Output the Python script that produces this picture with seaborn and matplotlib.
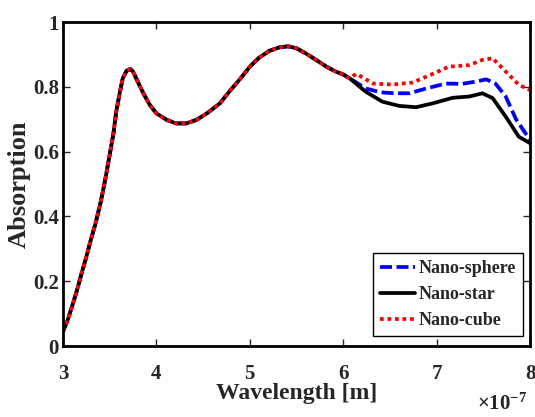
import numpy as np
import pandas as pd
import matplotlib
matplotlib.use("Agg")
import matplotlib.pyplot as plt
import seaborn as sns

# ---- data (wavelength in units of 1e-7 m) ----
wl_common = [3.00, 3.05, 3.10, 3.15, 3.20, 3.25, 3.30, 3.35, 3.40, 3.45, 3.50, 3.54,
             3.57, 3.61, 3.64, 3.68, 3.72, 3.75, 3.80, 3.86, 3.93, 4.00, 4.11, 4.21,
             4.32, 4.43, 4.55, 4.68, 4.78, 4.89, 5.00, 5.10, 5.21, 5.32, 5.41, 5.50,
             5.60, 5.71, 5.82, 5.92, 6.00, 6.07]
abs_common = [0.045, 0.08, 0.125, 0.172, 0.225, 0.275, 0.33, 0.38, 0.44, 0.51, 0.59, 0.656,
              0.723, 0.785, 0.826, 0.849, 0.855, 0.847, 0.816, 0.78, 0.744, 0.718, 0.698, 0.687,
              0.687, 0.698, 0.72, 0.749, 0.785, 0.822, 0.862, 0.89, 0.911, 0.922, 0.925, 0.919,
              0.903, 0.883, 0.862, 0.847, 0.838, 0.826]

wl_sphere_tail = [6.24, 6.40, 6.55, 6.71, 6.89, 7.10, 7.27, 7.42, 7.53, 7.63, 7.74, 7.85, 8.00]
abs_sphere_tail = [0.795, 0.783, 0.78, 0.78, 0.795, 0.81, 0.809, 0.816, 0.823, 0.81, 0.77, 0.70, 0.636]

wl_star_tail = [6.24, 6.42, 6.60, 6.78, 6.96, 7.17, 7.35, 7.49, 7.60, 7.74, 7.88, 8.00]
abs_star_tail = [0.785, 0.754, 0.741, 0.737, 0.749, 0.766, 0.77, 0.78, 0.765, 0.708, 0.646, 0.626]

wl_cube_tail = [6.14, 6.32, 6.53, 6.74, 6.96, 7.13, 7.35, 7.49, 7.60, 7.74, 7.88, 8.00]
abs_cube_tail = [0.84, 0.81, 0.807, 0.813, 0.84, 0.862, 0.867, 0.883, 0.888, 0.847, 0.806, 0.79]

labels = ["Nano-sphere", "Nano-star", "Nano-cube"]
colors = ["#0000ff", "#000000", "#ff0000"]
xticks = [3, 4, 5, 6, 7, 8]
xtick_labels = ["3", "4", "5", "6", "7", "8"]
yticks = [0, 0.2, 0.4, 0.6, 0.8, 1]
ytick_labels = ["0", "0.2", "0.4", "0.6", "0.8", "1"]

series = {
    "Nano-sphere": (wl_common + wl_sphere_tail, abs_common + abs_sphere_tail),
    "Nano-star": (wl_common + wl_star_tail, abs_common + abs_star_tail),
    "Nano-cube": (wl_common + wl_cube_tail, abs_common + abs_cube_tail),
}

# ---- style ----
sns.set_style("ticks")
plt.rcParams["font.family"] = ["Liberation Serif", "DejaVu Serif"]
plt.rcParams["font.weight"] = "bold"
plt.rcParams["mathtext.fontset"] = "custom"
plt.rcParams["mathtext.rm"] = "Liberation Serif"
plt.rcParams["mathtext.it"] = "Liberation Serif:italic"
plt.rcParams["mathtext.bf"] = "Liberation Serif:bold"

fig = plt.figure(figsize=(5.35, 4.17), dpi=100)
ax = fig.add_axes([63 / 535, 1 - 346 / 417, (530 - 63) / 535, (346 - 22) / 417])

styles = {
    "Nano-sphere": dict(linestyle=(0, (3.2, 1.2)), lw=2.7),
    "Nano-star": dict(linestyle="-", lw=2.7),
    "Nano-cube": dict(linestyle=(0, (1, 1)), lw=2.7),
}

for lab, col in zip(labels, colors):
    x, y = series[lab]
    df = pd.DataFrame({"wl": x, "a": y})
    sns.lineplot(data=df, x="wl", y="a", ax=ax, color=col, label=lab,
                 sort=False, estimator=None, **styles[lab])

ax.set_xlim(3, 8)
ax.set_ylim(0, 1)
ax.set_xticks(xticks)
ax.set_xticklabels(xtick_labels)
ax.set_yticks(yticks)
ax.set_yticklabels(ytick_labels)

ax.tick_params(axis="both", direction="in", length=5, width=1, top=True, right=True,
               labelsize=15)
ax.tick_params(axis="x", pad=13)
ax.tick_params(axis="y", pad=3)
for lbl in ax.get_xticklabels() + ax.get_yticklabels():
    lbl.set_fontweight("bold")

for sp in ax.spines.values():
    sp.set_linewidth(2)
    sp.set_color("black")

ax.set_xlabel("Wavelength [m]", fontsize=17, fontweight="bold")
ax.set_ylabel("Absorption", fontsize=19, fontweight="bold")
ax.xaxis.set_label_coords(0.5, -0.113)
ax.yaxis.set_label_coords(-0.068, 0.5)

ax.text(0.995, -0.212, r"$\times10^{-7}$", transform=ax.transAxes,
        ha="right", va="bottom", fontsize=15, fontweight="normal")

leg = ax.legend(loc="lower right", bbox_to_anchor=(0.985, 0.03), fontsize=13,
                frameon=True, fancybox=False, edgecolor="black", framealpha=1,
                handlelength=1.9, handletextpad=0.2, borderpad=0.4,
                labelspacing=0.5, borderaxespad=0)
leg.get_frame().set_linewidth(1)
for t in leg.get_texts():
    t.set_fontweight("bold")

fig.savefig("out.png", dpi=100)
